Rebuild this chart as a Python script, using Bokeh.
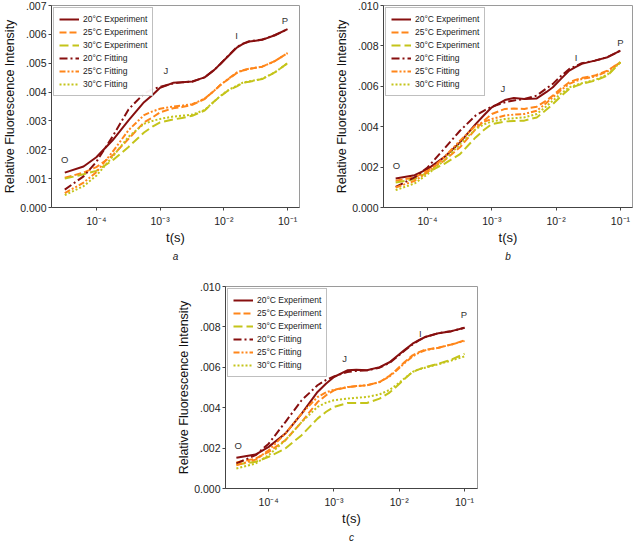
from bokeh.plotting import figure
from bokeh.layouts import column, row
from bokeh.models import (Range1d, FixedTicker, CustomJSTickFormatter, Legend,
                          LegendItem, Title)
from bokeh.embed import file_html
from bokeh.resources import INLINE
from bokeh.core.properties import value

FONT = "Liberation Sans"

# sampling times (s)
t_s = [3.2e-5, 6.3e-5, 1.0e-4, 1.8e-4, 3.2e-4, 5.6e-4, 7.6e-4, 1.0e-3, 1.6e-3, 2.2e-3,
       3.2e-3, 5.0e-3, 7.1e-3, 8.9e-3, 1.2e-2, 1.6e-2, 2.0e-2, 2.5e-2, 4.0e-2, 6.3e-2, 1.0e-1]

# relative fluorescence intensity, in units of 0.001
a_exp20 = [1.21, 1.42, 1.74, 2.33, 3.02, 3.65, 3.90, 4.15, 4.32, 4.34, 4.37, 4.51, 4.77, 4.98, 5.27, 5.54, 5.67, 5.75, 5.81, 5.97, 6.18]
a_exp25 = [1.03, 1.21, 1.40, 1.80, 2.38, 2.95, 3.12, 3.30, 3.44, 3.48, 3.56, 3.76, 4.05, 4.25, 4.46, 4.66, 4.75, 4.80, 4.88, 5.07, 5.35]
a_exp30 = [1.00, 1.15, 1.27, 1.63, 2.10, 2.60, 2.80, 2.95, 3.05, 3.10, 3.18, 3.36, 3.68, 3.86, 4.07, 4.20, 4.32, 4.36, 4.45, 4.68, 5.00]
a_fit20 = [0.62, 1.08, 1.58, 2.46, 3.40, 3.95, 4.10, 4.18, 4.30, 4.34, 4.36, 4.51, 4.77, 4.98, 5.28, 5.56, 5.68, 5.76, 5.82, 5.97, 6.18]
a_fit25 = [0.50, 0.86, 1.22, 1.93, 2.68, 3.20, 3.33, 3.42, 3.50, 3.53, 3.58, 3.77, 4.05, 4.25, 4.47, 4.68, 4.76, 4.81, 4.88, 5.07, 5.35]
a_fit30 = [0.43, 0.74, 1.10, 1.76, 2.45, 2.90, 3.00, 3.07, 3.15, 3.18, 3.22, 3.38, 3.68, 3.87, 4.08, 4.22, 4.33, 4.37, 4.46, 4.68, 5.00]

b_exp20 = [1.44, 1.60, 1.90, 2.48, 3.22, 4.13, 4.58, 4.96, 5.32, 5.42, 5.37, 5.40, 5.72, 5.95, 6.38, 6.78, 6.95, 7.11, 7.27, 7.44, 7.77]
b_exp25 = [1.32, 1.49, 1.82, 2.31, 2.98, 3.88, 4.30, 4.63, 4.88, 4.90, 4.88, 4.99, 5.30, 5.54, 5.90, 6.20, 6.32, 6.41, 6.53, 6.78, 7.19]
b_exp30 = [1.24, 1.40, 1.74, 2.15, 2.64, 3.47, 3.85, 4.13, 4.26, 4.28, 4.30, 4.46, 4.85, 5.12, 5.52, 5.87, 6.01, 6.12, 6.28, 6.53, 7.19]
b_fit20 = [1.02, 1.49, 1.98, 2.89, 3.80, 4.55, 4.80, 4.99, 5.21, 5.30, 5.37, 5.54, 5.90, 6.12, 6.52, 6.86, 7.00, 7.14, 7.27, 7.44, 7.77]
b_fit25 = [0.99, 1.32, 1.74, 2.48, 3.31, 4.05, 4.25, 4.38, 4.55, 4.60, 4.63, 4.79, 5.18, 5.45, 5.82, 6.12, 6.25, 6.36, 6.48, 6.74, 7.19]
b_fit30 = [0.86, 1.19, 1.65, 2.31, 3.14, 3.88, 4.12, 4.26, 4.38, 4.42, 4.46, 4.63, 5.02, 5.29, 5.65, 5.95, 6.06, 6.15, 6.31, 6.58, 7.19]

c_exp20 = [1.52, 1.68, 2.06, 2.72, 3.71, 4.78, 5.20, 5.52, 5.85, 5.88, 5.85, 6.01, 6.25, 6.51, 6.85, 7.17, 7.35, 7.50, 7.69, 7.79, 7.96]
c_exp25 = [1.29, 1.48, 1.81, 2.39, 3.29, 4.28, 4.62, 4.86, 5.02, 5.07, 5.11, 5.27, 5.58, 5.85, 6.25, 6.59, 6.75, 6.87, 6.97, 7.13, 7.33]
c_exp30 = [1.19, 1.32, 1.57, 1.98, 2.64, 3.46, 3.80, 4.04, 4.23, 4.23, 4.23, 4.45, 4.75, 5.02, 5.42, 5.77, 5.90, 6.01, 6.18, 6.38, 6.67]
c_fit20 = [1.24, 1.65, 2.22, 3.29, 4.37, 5.11, 5.38, 5.55, 5.77, 5.82, 5.85, 5.98, 6.22, 6.47, 6.82, 7.13, 7.33, 7.50, 7.69, 7.79, 7.96]
c_fit25 = [1.15, 1.43, 1.89, 2.72, 3.71, 4.53, 4.76, 4.89, 5.02, 5.07, 5.11, 5.27, 5.55, 5.82, 6.20, 6.54, 6.72, 6.84, 6.97, 7.13, 7.30]
c_fit30 = [0.99, 1.24, 1.65, 2.39, 3.29, 4.04, 4.25, 4.37, 4.45, 4.49, 4.53, 4.66, 4.88, 5.11, 5.45, 5.77, 5.90, 5.98, 6.15, 6.34, 6.54]

series_labels = ["20°C Experiment", "25°C Experiment", "30°C Experiment",
                 "20°C Fitting", "25°C Fitting", "30°C Fitting"]

# O-J-I-P point labels (time, intensity x0.001)
point_names = ["O", "J", "I", "P"]
a_pt_t = [3.2e-5, 1.23e-3, 1.58e-2, 9.1e-2]
a_pt_v = [1.68, 4.75, 5.96, 6.48]
b_pt_t = [3.3e-5, 1.48e-3, 2.04e-2, 1.0e-1]
b_pt_v = [2.07, 5.87, 7.44, 8.18]
c_pt_t = [3.4e-5, 1.45e-3, 2.1e-2, 9.8e-2]
c_pt_v = [2.11, 6.43, 7.66, 8.62]

x_ticks = [1e-4, 1e-3, 1e-2, 1e-1]
a_y_ticks = [0, 1, 2, 3, 4, 5, 6, 7]
bc_y_ticks = [0, 2, 4, 6, 8, 10]

COL20 = "#870f0f"
COL25 = "#ff861a"
COL30 = "#c4c41a"
styles = [
    dict(color=COL20, dash="solid"),
    dict(color=COL25, dash="7 3"),
    dict(color=COL30, dash="9 4"),
    dict(color=COL20, dash="8 3 2 3"),
    dict(color=COL25, dash="6 2 2 2 2 2"),
    dict(color=COL30, dash="2 2"),
]

xfmt = CustomJSTickFormatter(code="""
const sup = {'-':'\u207b','0':'\u2070','1':'\u00b9','2':'\u00b2','3':'\u00b3','4':'\u2074','5':'\u2075'};
const e = Math.round(Math.log10(tick));
return '10' + String(e).split('').map(c => sup[c]).join('');
""")
yfmt = CustomJSTickFormatter(code="""
if (Math.abs(tick) < 1e-9) return '0.000';
return (tick/1000).toFixed(3).replace(/^0/, '');
""")


def panel(width, height, mbl, mbr, mbt, mbb, xr, yr, yticks, series, pt_t, pt_v, caption):
    p = figure(width=width, height=height, x_axis_type="log",
               x_range=Range1d(*xr), y_range=Range1d(*yr),
               output_backend="svg", toolbar_location=None,
               min_border_left=mbl, min_border_right=mbr,
               min_border_top=mbt, min_border_bottom=mbb)
    p.xgrid.visible = False
    p.ygrid.visible = False
    p.outline_line_color = "#9a9a9a"
    p.background_fill_color = "white"

    items = []
    for vals, st, lab in zip(series, styles, series_labels):
        r = p.line(t_s, vals, line_color=st["color"], line_width=2,
                   line_dash=st["dash"])
        items.append(LegendItem(label=lab, renderers=[r]))

    p.text(x=pt_t, y=pt_v, text=point_names, text_font=value(FONT),
           text_font_size="9.5px", text_color="#333333",
           text_align="center", text_baseline="middle")

    leg = Legend(items=items, location="top_left", margin=2, padding=5,
                 spacing=1, label_height=12, glyph_height=12, glyph_width=20,
                 label_standoff=4, border_line_color="#808080",
                 label_text_font=FONT, label_text_font_size="8.5px",
                 label_text_color="#222222")
    p.add_layout(leg)

    for ax in (p.xaxis[0], p.yaxis[0]):
        ax.axis_line_color = "#444444"
        ax.major_tick_line_color = "#444444"
        ax.major_tick_out = 3
        ax.major_tick_in = 0
        ax.minor_tick_out = 0
        ax.minor_tick_in = 0
        ax.major_label_text_font = FONT
        ax.major_label_text_color = "#222222"
        ax.axis_label_text_font = FONT
        ax.axis_label_text_font_style = "normal"
        ax.axis_label_text_color = "#111111"
        ax.axis_label_text_font_size = "12.5px"

    p.xaxis.ticker = FixedTicker(ticks=x_ticks, minor_ticks=[])
    p.xaxis.formatter = xfmt
    p.xaxis.axis_label = "t(s)"
    p.xaxis.axis_label_text_font_size = "13px"
    p.xaxis.major_label_text_font_size = "10.5px"
    p.xaxis.major_label_standoff = 4
    p.xaxis.axis_label_standoff = 0

    p.yaxis.ticker = FixedTicker(ticks=yticks, minor_ticks=[])
    p.yaxis.formatter = yfmt
    p.yaxis.axis_label = "Relative Fluorescence Intensity"
    p.yaxis.major_label_text_font_size = "10.5px"
    p.yaxis.major_label_standoff = 2
    p.yaxis.axis_label_standoff = 0

    p.add_layout(Title(text=caption, align="center", text_font=FONT,
                       text_font_style="italic", text_font_size="10px",
                       text_color="#222222", standoff=3), "below")
    return p


pa = panel(310, 268, 50, 11, 5, 61, (1.98e-5, 0.154), (0, 7), a_y_ticks,
           [a_exp20, a_exp25, a_exp30, a_fit20, a_fit25, a_fit30],
           a_pt_t, a_pt_v, "a")
pb = panel(323, 268, 73, 1, 5, 61, (2.07e-5, 0.154), (0, 10), bc_y_ticks,
           [b_exp20, b_exp25, b_exp30, b_fit20, b_fit25, b_fit30],
           b_pt_t, b_pt_v, "b")
pc = panel(633, 276, 225, 156, 18, 56, (2.18e-5, 0.158), (0, 10), bc_y_ticks,
           [c_exp20, c_exp25, c_exp30, c_fit20, c_fit25, c_fit30],
           c_pt_t, c_pt_v, "c")

layout = column(row(pa, pb), pc)
open("out.html", "w").write(file_html(layout, INLINE))
